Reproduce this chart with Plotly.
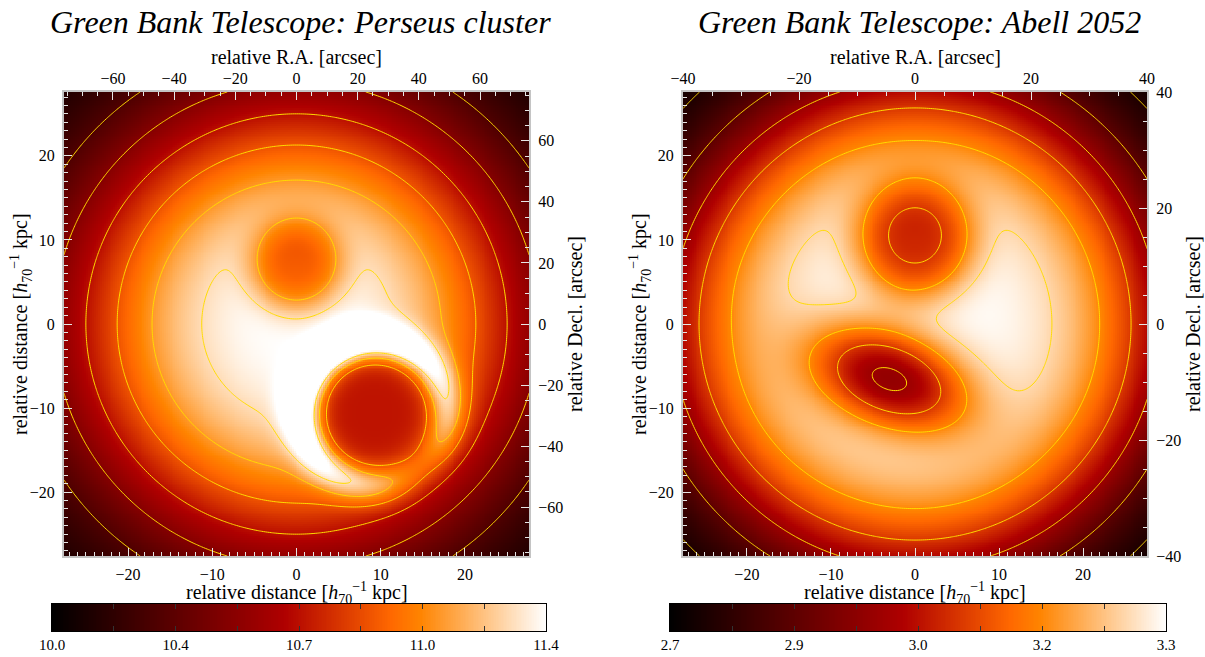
import numpy as np
import plotly.graph_objects as go

# ---------------- data / reading of the reference ----------------
EXTENT_KPC = 27.6                      # half width of maps in kpc
PERSEUS_ARCSEC = 76.0                  # half width in arcsec (Perseus)
ABELL_ARCSEC = 40.0                    # half width in arcsec (Abell 2052)
perseus_zrange = [10.0, 11.4]
abell_zrange = [2.7, 3.3]
perseus_cb_labels = ["10.0", "10.4", "10.7", "11.0", "11.4"]
abell_cb_labels = ["2.7", "2.9", "3.0", "3.2", "3.3"]
kpc_ticks = [-20, -10, 0, 10, 20]
perseus_arcsec_ticks = [-60, -40, -20, 0, 20, 40, 60]
abell_arcsec_ticks = [-40, -20, 0, 20, 40]

# cluster model (kpc); values normalised 0..1 over the colour range
perseus_core = [28.5, 2.8]            # radius, shape of cluster profile
perseus_bub_x = [0.0, 9.2]
perseus_bub_y = [7.0, -10.5]
perseus_bub_ax = [5.6, 6.75]
perseus_bub_ay = [5.6, 6.75]
perseus_bub_ang = [0.0, 0.0]
perseus_bub_pow = [3.0, 6.0]
perseus_bub_depth = [0.32, 1.0]
perseus_bub_floor = [-1.0, 0.51]      # <0: subtract depth, else blend to floor level
perseus_rim_r = [8.0, 8.8]
perseus_rim_w = [2.0, 2.3]
perseus_rim_amp = [0.0, 0.24]
perseus_rim_gap = [90.0, -50.0]       # direction of the gap in the rim (deg)
perseus_rim_gapw = [40.0, 30.0]
perseus_rim_gapd = [1.0, 0.55]
perseus_levels = [10.1, 11.31, 0.2]   # start, end, step

abell_core = [30.0, 4.0]
abell_bub_x = [0.0, -3.0]
abell_bub_y = [10.0, -6.5]
abell_bub_ax = [7.1, 9.8]
abell_bub_ay = [7.1, 5.7]
abell_bub_ang = [0.0, -20.0]
abell_bub_pow = [2.9, 2.2]
abell_bub_depth = [0.44, 0.60]
abell_bub_floor = [-1.0, -1.0]
abell_rim_r = [8.0, 10.0]
abell_rim_w = [2.0, 2.5]
abell_rim_amp = [0.0, 0.0]
abell_rim_gap = [90.0, 0.0]
abell_rim_gapw = [40.0, 30.0]
abell_rim_gapd = [1.0, 1.0]
abell_levels = [2.75, 3.26, 0.10]

# ---------------- build maps ----------------
grid = np.linspace(-EXTENT_KPC, EXTENT_KPC, 241)
X, Y = np.meshgrid(grid, grid)


def cluster_map(core, bx, by, bax, bay, bang, bpow, bdep, bfl, rr, rw, ramp, gap, gapw, gapd, zr):
    R = np.hypot(X, Y)
    F = np.exp(-(R / core[0]) ** core[1])
    for i in range(len(bx)):
        dx, dy = X - bx[i], Y - by[i]
        d = np.hypot(dx, dy)
        th = np.degrees(np.arctan2(dy, dx))
        dth = (th - gap[i] + 180.0) % 360.0 - 180.0
        mod = 1.0 - gapd[i] * np.exp(-(dth / gapw[i]) ** 2)
        F = F + ramp[i] * mod * np.exp(-((d - rr[i]) / rw[i]) ** 2)
    for i in range(len(bx)):
        a = np.deg2rad(bang[i])
        dx, dy = X - bx[i], Y - by[i]
        u = dx * np.cos(a) + dy * np.sin(a)
        v = -dx * np.sin(a) + dy * np.cos(a)
        q = np.hypot(u / bax[i], v / bay[i])
        w = np.exp(-q ** bpow[i])
        if bfl[i] < 0:
            F = F - bdep[i] * w
        else:
            F = F - bdep[i] * w * (F - bfl[i])
    return zr[0] + (zr[1] - zr[0]) * F


Zp = cluster_map(perseus_core, perseus_bub_x, perseus_bub_y, perseus_bub_ax, perseus_bub_ay,
                 perseus_bub_ang, perseus_bub_pow, perseus_bub_depth, perseus_bub_floor,
                 perseus_rim_r, perseus_rim_w, perseus_rim_amp, perseus_rim_gap,
                 perseus_rim_gapw, perseus_rim_gapd, perseus_zrange)
Za = cluster_map(abell_core, abell_bub_x, abell_bub_y, abell_bub_ax, abell_bub_ay,
                 abell_bub_ang, abell_bub_pow, abell_bub_depth, abell_bub_floor, abell_rim_r,
                 abell_rim_w, abell_rim_amp, abell_rim_gap, abell_rim_gapw, abell_rim_gapd,
                 abell_zrange)

# IDL "red temperature" like colour table
ct3 = [[0.0, "rgb(0,0,0)"], [0.47, "rgb(175,0,0)"], [0.686, "rgb(255,104,0)"],
       [0.745, "rgb(255,132,0)"], [1.0, "rgb(255,255,255)"]]

W, H = 1205, 657
FONT = "Liberation Serif"
TICKC = "#e6e6e6"
FRAME = "#c4c4c4"


def px(x):
    return x / W


def py(y):
    return 1 - y / H


panels = [
    dict(Z=Zp, zr=perseus_zrange, lev=perseus_levels, arc=PERSEUS_ARCSEC,
         arcticks=perseus_arcsec_ticks, cbl=perseus_cb_labels, x0=64, x1=529, cb0=52, cb1=546,
         title="Green Bank Telescope: Perseus cluster"),
    dict(Z=Za, zr=abell_zrange, lev=abell_levels, arc=ABELL_ARCSEC,
         arcticks=abell_arcsec_ticks, cbl=abell_cb_labels, x0=683, x1=1147, cb0=670, cb1=1166,
         title="Green Bank Telescope: Abell 2052"),
]
Y0, Y1 = 92, 556
CBY0, CBY1 = 604, 631

fig = go.Figure()
layout = dict(width=W, height=H, margin=dict(l=0, r=0, t=0, b=0, autoexpand=False),
              paper_bgcolor="white", plot_bgcolor="white", showlegend=False,
              font=dict(family=FONT, size=16, color="black"))
annotations = []

for k, p in enumerate(panels):
    base = 3 * k
    xa, ya = f"x{base + 1 if base else ''}", f"y{base + 1 if base else ''}"
    xo, yo = f"x{base + 2}", f"y{base + 2}"
    xc, yc = f"x{base + 3}", f"y{base + 3}"
    kx = "xaxis" + (str(base + 1) if base else "")
    ky = "yaxis" + (str(base + 1) if base else "")

    fig.add_trace(go.Heatmap(x=grid, y=grid, z=p["Z"], colorscale=ct3, zmin=p["zr"][0],
                             zmax=p["zr"][1], showscale=False, xaxis=xa, yaxis=ya,
                             hoverinfo="skip"))
    fig.add_trace(go.Contour(x=grid, y=grid, z=p["Z"], contours=dict(coloring="none",
                             start=p["lev"][0], end=p["lev"][1], size=p["lev"][2]),
                             line=dict(color="#ffdc00", width=1, smoothing=1), showscale=False,
                             xaxis=xa, yaxis=ya, hoverinfo="skip"))
    fig.add_trace(go.Scatter(x=[-p["arc"], p["arc"]], y=[-p["arc"], p["arc"]], mode="markers",
                             marker=dict(opacity=0), xaxis=xo, yaxis=yo, hoverinfo="skip"))
    cbx = np.linspace(p["zr"][0], p["zr"][1], 300)
    fig.add_trace(go.Heatmap(x=cbx, y=[0, 1], z=[cbx, cbx], colorscale=ct3, zmin=p["zr"][0],
                             zmax=p["zr"][1], showscale=False, xaxis=xc, yaxis=yc,
                             hoverinfo="skip"))

    common = dict(showgrid=False, zeroline=False, ticks="inside", ticklen=8, tickwidth=1,
                  tickcolor=TICKC, showline=True, linecolor=FRAME, linewidth=2,
                  automargin=False, fixedrange=True,
                  tickfont=dict(family=FONT, size=16, color="black"))
    layout[kx] = dict(domain=[px(p["x0"]), px(p["x1"])], range=[-EXTENT_KPC, EXTENT_KPC],
                      anchor=ya, tickvals=kpc_ticks, ticklabelstandoff=3,
                      minor=dict(dtick=1, tick0=0, ticklen=4, tickcolor=TICKC, ticks="inside"),
                      **common)
    layout[ky] = dict(domain=[py(Y1), py(Y0)], range=[-EXTENT_KPC, EXTENT_KPC],
                      anchor=xa, tickvals=kpc_ticks, ticklabelstandoff=4,
                      minor=dict(dtick=1, tick0=0, ticklen=4, tickcolor=TICKC, ticks="inside"),
                      **common)
    layout[f"xaxis{base + 2}"] = dict(overlaying=xa, side="top", anchor=yo,
                                      range=[-p["arc"], p["arc"]], tickvals=p["arcticks"],
                                      ticklabelstandoff=0,
                                      minor=dict(dtick=5, tick0=0, ticklen=4, tickcolor=TICKC,
                                                 ticks="inside"), **common)
    layout[f"yaxis{base + 2}"] = dict(overlaying=ya, side="right", anchor=xo,
                                      range=[-p["arc"], p["arc"]], tickvals=p["arcticks"],
                                      ticklabelstandoff=4,
                                      minor=dict(dtick=5, tick0=0, ticklen=4, tickcolor=TICKC,
                                                 ticks="inside"), **common)
    cbt = np.linspace(p["zr"][0], p["zr"][1], 9)
    layout[f"xaxis{base + 3}"] = dict(domain=[px(p["cb0"]), px(p["cb1"])], anchor=yc,
                                      range=[p["zr"][0], p["zr"][1]], tickvals=cbt,
                                      ticktext=[p["cbl"][i // 2] if i % 2 == 0 else "" for i in range(9)],
                                      ticks="inside", ticklen=5, tickcolor="#333333",
                                      mirror="ticks", showline=True, linecolor="black",
                                      linewidth=1, showgrid=False, zeroline=False,
                                      ticklabelstandoff=0, automargin=False, fixedrange=True,
                                      tickfont=dict(family=FONT, size=15, color="black"))
    layout[f"yaxis{base + 3}"] = dict(domain=[py(CBY1), py(CBY0)], anchor=xc, range=[0, 1],
                                      showticklabels=False, ticks="", showline=True,
                                      linecolor="black", linewidth=1, mirror=True,
                                      showgrid=False, zeroline=False, automargin=False,
                                      fixedrange=True)

    cx = (p["x0"] + p["x1"]) / 2
    ann = dict(xref="paper", yref="paper", showarrow=False, xanchor="center", yanchor="middle")
    annotations += [
        dict(x=px(cx + 4), y=py(22), text=f"<i>{p['title']}</i>",
             font=dict(family=FONT, size=32, color="black"), **ann),
        dict(x=px(cx), y=py(57), text="relative R.A. [arcsec]",
             font=dict(family=FONT, size=20, color="black"), **ann),
        dict(x=px(cx), y=py(593),
             text="relative distance [<i>h</i><sub>70</sub><sup>−1</sup> kpc]",
             font=dict(family=FONT, size=20, color="black"), **ann),
        dict(x=px(p["x0"] - 43), y=py((Y0 + Y1) / 2),
             text="relative distance [<i>h</i><sub>70</sub><sup>−1</sup> kpc]", textangle=-90,
             font=dict(family=FONT, size=20, color="black"), **ann),
        dict(x=px(p["x1"] + 46), y=py((Y0 + Y1) / 2),
             text="relative Decl. [arcsec]", textangle=-90,
             font=dict(family=FONT, size=20, color="black"), **ann),
    ]

layout["annotations"] = annotations
fig.update_layout(**layout)
fig.write_html("out.html")
